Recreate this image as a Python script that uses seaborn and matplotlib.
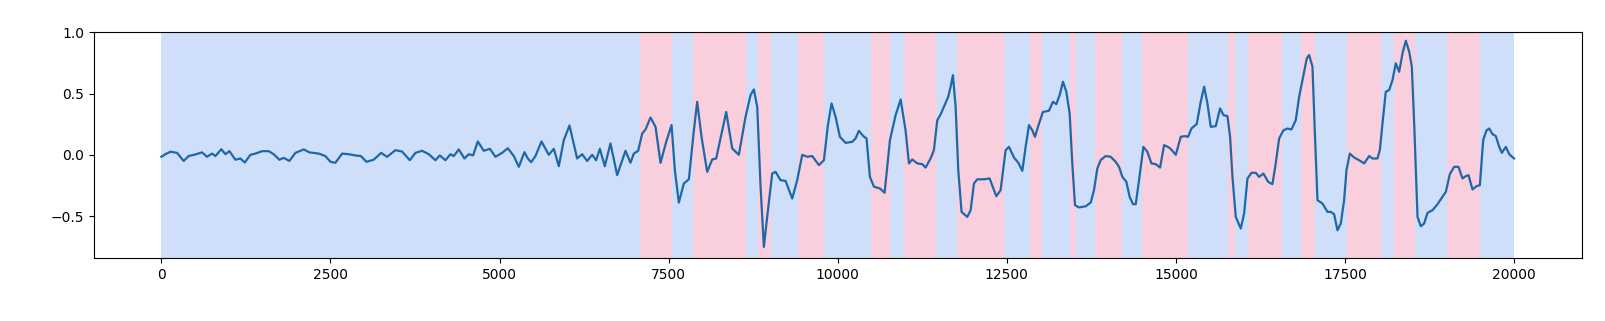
import numpy as np
import pandas as pd
import seaborn as sns
import matplotlib
matplotlib.use("Agg")
import matplotlib.pyplot as plt

# time positions of the points
t = [0, 59, 133, 232, 330, 404, 503, 601, 675, 749, 799, 887, 947, 1006, 1095,
     1168, 1233, 1316, 1390, 1489, 1588, 1661, 1745, 1809, 1893, 1982, 2105,
     2189, 2327, 2425, 2500, 2573, 2672, 2771, 2869,
     2950, 3032, 3140, 3249, 3337, 3461, 3559, 3673, 3756, 3855, 3954, 4052,
     4116, 4200, 4274, 4323, 4397, 4481, 4545, 4609, 4678, 4767, 4856, 4940,
     5038, 5122, 5211, 5285, 5368, 5418, 5467, 5531, 5620,
     5728, 5802, 5876, 5950, 6034, 6147, 6221, 6295, 6369, 6428, 6483, 6556,
     6640, 6739, 6862, 6936, 6985, 7050, 7109, 7158, 7232, 7306, 7380, 7464,
     7543, 7592, 7651, 7725, 7799, 7873, 7922, 7986, 8070, 8144, 8203, 8282,
     8351, 8440, 8538,
     8637, 8711, 8760, 8810, 8859, 8908, 8957, 9031, 9081, 9155, 9229, 9327,
     9401, 9475, 9549, 9623, 9722, 9796, 9855, 9909, 9968, 10032, 10116, 10215,
     10264, 10313, 10377, 10426, 10476, 10535, 10624, 10693, 10772, 10856,
     10930, 11003, 11053, 11102, 11176, 11250, 11299, 11373, 11422, 11472,
     11521, 11570, 11634, 11669, 11703, 11743, 11782, 11831, 11915, 11965,
     12014, 12063, 12162, 12246, 12344, 12408, 12482, 12532, 12606, 12670,
     12729, 12778, 12828, 12877, 12916, 12976, 13034, 13123, 13182, 13232,
     13281, 13330, 13380, 13429, 13468, 13508, 13567, 13666, 13740, 13789,
     13838, 13887, 13961, 14035, 14109, 14159, 14208, 14267, 14316, 14366,
     14406, 14455, 14519, 14578, 14638, 14702, 14766, 14825, 14899, 14948,
     14998, 15072, 15131, 15180, 15229, 15308, 15367, 15417, 15466, 15515,
     15589, 15653, 15703, 15762, 15801, 15836, 15885, 15959, 16008, 16058,
     16117, 16181, 16230, 16294, 16363, 16427, 16476, 16526, 16590, 16649,
     16708, 16772, 16822, 16871, 16935, 16970, 17019, 17053, 17093, 17167,
     17241, 17290, 17339, 17389, 17438, 17487, 17522, 17571, 17635, 17709,
     17783, 17857, 17906, 17980, 18015, 18054, 18103, 18153, 18202, 18251,
     18301, 18350, 18399, 18449, 18488, 18523, 18572, 18621, 18670, 18720,
     18794, 18868, 18942, 18991, 19050, 19114, 19178, 19237, 19287, 19326,
     19385, 19445, 19494, 19543, 19592, 19632, 19681, 19730, 19780, 19819,
     19878, 19928, 20000]

# signal values at those positions
v = [-0.016, 0.005, 0.025, 0.016, -0.05, -0.01, 0.003, 0.02, -0.016, 0.01,
     -0.01, 0.046, 0.005, 0.03, -0.04, -0.03, -0.063, 0.0, 0.01, 0.03, 0.03,
     0.005, -0.04, -0.025, -0.05, 0.016, 0.044, 0.02, 0.01, -0.01, -0.057,
     -0.065, 0.01, 0.005, -0.005,
     -0.01, -0.057, -0.04, 0.016, -0.016, 0.038, 0.027, -0.044, 0.016, 0.033,
     0.005, -0.044, -0.005, -0.044, 0.005, -0.01, 0.044, -0.03, 0.005, -0.005,
     0.109, 0.033, 0.049, -0.016, 0.016, 0.054, -0.01, -0.098, 0.022, -0.03,
     -0.06, -0.01, 0.109,
     0.0, 0.049, -0.093, 0.12, 0.24, -0.03, 0.005, -0.05, 0.0, -0.044, 0.049,
     -0.093, 0.093, -0.166, 0.033, -0.065, 0.01, 0.033, 0.174, 0.207, 0.305,
     0.229, -0.065, 0.106, 0.243, -0.125, -0.39, -0.234, -0.2, 0.2, 0.433,
     0.147, -0.139, -0.038, -0.03, 0.174, 0.35, 0.052, 0.0,
     0.31, 0.488, 0.534, 0.39, -0.26, -0.752, -0.507, -0.153, -0.139, -0.207,
     -0.213, -0.357, -0.207, 0.0, -0.016, -0.01, -0.084, -0.044, 0.243, 0.42,
     0.31, 0.147, 0.098, 0.106, 0.134, 0.196, 0.153, 0.134, -0.18, -0.26,
     -0.275, -0.31, 0.12, 0.324, 0.452, 0.2, -0.07, -0.038, -0.07, -0.076,
     -0.104, -0.03, 0.038, 0.283, 0.33, 0.392, 0.474, 0.556, 0.651, 0.392,
     -0.125, -0.466, -0.507, -0.452, -0.234, -0.2, -0.2, -0.193, -0.338,
     -0.289, 0.038, 0.065, -0.022, -0.065, -0.131, 0.065, 0.243, 0.2, 0.147,
     0.256, 0.35, 0.36, 0.433, 0.414, 0.488, 0.597, 0.515, 0.338, -0.07,
     -0.411, -0.43, -0.42, -0.39, -0.289, -0.112, -0.044, -0.01, -0.016,
     -0.057, -0.098, -0.18, -0.22, -0.343, -0.403,
     -0.403, -0.207, 0.065, 0.025, -0.07, -0.076, -0.104, 0.079, 0.06, 0.033,
     0.0, 0.147, 0.153, 0.147, 0.215, 0.251, 0.433, 0.556, 0.42, 0.229, 0.234,
     0.379, 0.324, 0.316, 0.147, -0.18, -0.507, -0.602, -0.48, -0.193, -0.147,
     -0.147, -0.18, -0.153, -0.22, -0.24, -0.07, 0.134, 0.2, 0.215, 0.207,
     0.283, 0.474, 0.61, 0.787, 0.815, 0.72, 0.2, -0.37, -0.398, -0.466,
     -0.466, -0.485, -0.616, -0.561, -0.37, -0.125, 0.01, -0.022, -0.044,
     -0.07, -0.01, -0.03, -0.03, 0.038, 0.256, 0.515, 0.529, 0.61, 0.747,
     0.678, 0.828, 0.932, 0.842, 0.72, 0.256, -0.507, -0.583, -0.561, -0.474,
     -0.452, -0.403, -0.343, -0.302, -0.158, -0.098, -0.098, -0.193, -0.174,
     -0.166, -0.283, -0.256, -0.248, 0.12, 0.2, 0.215, 0.169, 0.153, 0.065,
     0.016, 0.065, 0.005, -0.03]

# background segment edges and their class (0 = blue, 1 = pink)
edges = [0, 7070, 7543, 7853, 8637, 8825, 9007, 9416, 9796, 10486, 10772,
         10984, 11458, 11768, 12458, 12838, 13025, 13434, 13523, 13809, 14209,
         14494, 15185, 15776, 15870, 16067, 16565, 16846, 17063, 17536, 18029,
         18226, 18532, 19005, 19498, 20000]
labels = [0, 1, 0, 1, 0, 1, 0, 1, 0, 1, 0, 1, 0, 1, 0, 1, 0, 1, 0, 1, 0, 1,
          0, 1, 0, 1, 0, 1, 0, 1, 0, 1, 0, 1, 0]

seg_colors = {0: "#cfdef9", 1: "#f9cedd"}

df = pd.DataFrame({"t": t, "v": v})

fig, ax = plt.subplots(figsize=(16.05, 3.21), dpi=100)
fig.subplots_adjust(left=0.0584, right=0.9855, top=0.901, bottom=0.195)

for i, lab in enumerate(labels):
    ax.axvspan(edges[i], edges[i + 1], color=seg_colors[lab], lw=0, zorder=0)

sns.lineplot(data=df, x="t", y="v", ax=ax, color="#1f68a8", lw=1.6, zorder=3)

ax.set_xlim(-1000, 21000)
ax.set_ylim(-0.846, 1.005)
ax.set_xticks([0, 2500, 5000, 7500, 10000, 12500, 15000, 17500, 20000])
ax.set_yticks([-0.5, 0.0, 0.5, 1.0])
ax.set_xlabel("")
ax.set_ylabel("")
ax.tick_params(labelsize=10)

fig.savefig("out.png", dpi=100)
plt.close(fig)
